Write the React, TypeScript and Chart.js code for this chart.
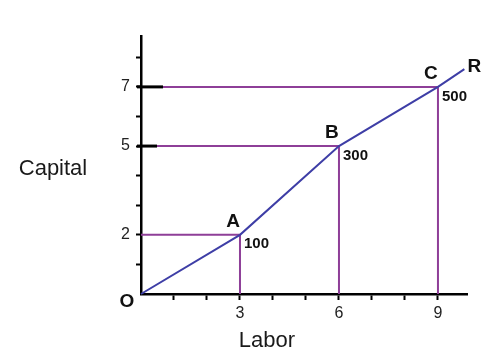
import React, { useEffect, useRef } from "react";
import { Chart, registerables } from "chart.js";

Chart.register(...registerables);

// Input combinations on the expansion path
const pointNames = ["A", "B", "C"];
const labor = [3, 6, 9];
const capital = [2, 5, 7];
const output = [100, 300, 500];

// Far end of the expansion path, labelled R
const rayEndLabor = 9.8;
const rayEndCapital = 7.6;

// Labelled ticks on each axis
const laborTicks = [3, 6, 9];
const capitalTicks = [2, 5, 7];

const FONT = "'Liberation Sans', Arial, Helvetica, sans-serif";
const PURPLE = "#8E3F98";
const BLUE = "#3E3EA6";

const annotate = {
  id: "annotate",
  afterDatasetsDraw(chart: any) {
    const { ctx } = chart;
    const x = chart.scales.x;
    const y = chart.scales.y;
    ctx.save();
    ctx.fillStyle = "#111";

    // heavier marks at the labelled capital ticks 7 and 5
    ctx.strokeStyle = "#000";
    ctx.lineWidth = 3;
    const left = x.getPixelForValue(0);
    [
      [7, 22],
      [5, 16],
    ].forEach(([v, len]) => {
      const py = y.getPixelForValue(v);
      ctx.beginPath();
      ctx.moveTo(left - 4, py);
      ctx.lineTo(left + len, py);
      ctx.stroke();
    });

    pointNames.forEach((name, i) => {
      const px = x.getPixelForValue(labor[i]);
      const py = y.getPixelForValue(capital[i]);
      ctx.font = `bold 19px ${FONT}`;
      ctx.textAlign = "center";
      ctx.textBaseline = "middle";
      ctx.fillText(name, px - 7, py - 13);
      ctx.font = `bold 15px ${FONT}`;
      ctx.textAlign = "left";
      ctx.textBaseline = "top";
      ctx.fillText(String(output[i]), px + 4, py + 2);
    });

    ctx.font = `bold 19px ${FONT}`;
    ctx.textAlign = "center";
    ctx.textBaseline = "middle";
    ctx.fillText("O", x.getPixelForValue(0) - 14, y.getPixelForValue(0) + 8);
    ctx.fillText(
      "R",
      x.getPixelForValue(rayEndLabor) + 10,
      y.getPixelForValue(rayEndCapital) - 2
    );

    ctx.font = `22px ${FONT}`;
    ctx.fillStyle = "#1a1a1a";
    ctx.textBaseline = "alphabetic";
    ctx.fillText("Capital", 53, 175);
    ctx.fillText("Labor", 267, 347);
    ctx.restore();
  },
};

export default function App() {
  const canvasRef = useRef<HTMLCanvasElement | null>(null);

  useEffect(() => {
    if (!canvasRef.current) return;

    const pathData = [{ x: 0, y: 0 }]
      .concat(labor.map((v, i) => ({ x: v, y: capital[i] })))
      .concat([{ x: rayEndLabor, y: rayEndCapital }]);

    const guides = labor.map((v, i) => ({
      label: `guide ${pointNames[i]}`,
      data: [
        { x: 0, y: capital[i] },
        { x: v, y: capital[i] },
        { x: v, y: 0 },
      ],
      showLine: true,
      borderColor: PURPLE,
      borderWidth: 2,
      pointRadius: 0,
      tension: 0,
      clip: false as any,
    }));

    const tickCommon = {
      stepSize: 1,
      autoSkip: false,
      includeBounds: false,
      color: "#222",
      font: { size: 16, family: FONT },
      maxRotation: 0,
    };

    const chart = new Chart(canvasRef.current, {
      type: "scatter",
      data: {
        datasets: [
          {
            label: "expansion path",
            data: pathData,
            showLine: true,
            borderColor: BLUE,
            borderWidth: 2,
            pointRadius: 0,
            tension: 0,
            clip: false as any,
          },
          ...guides,
        ],
      },
      options: {
        animation: false,
        responsive: false,
        layout: { padding: { left: 0, top: 36, right: 33, bottom: 0 } },
        plugins: {
          legend: { display: false },
          tooltip: { enabled: false },
        },
        scales: {
          x: {
            type: "linear",
            min: 0,
            max: 9.88,
            border: { color: "#000", width: 2.5 },
            grid: {
              display: true,
              drawOnChartArea: false,
              drawTicks: true,
              tickLength: 6,
              tickColor: "#000",
              tickWidth: 2,
            },
            ticks: {
              ...tickCommon,
              padding: 4,
              callback: (v: any) => (laborTicks.includes(Number(v)) ? String(v) : ""),
            },
            afterBuildTicks: (s: any) => {
              s.ticks = s.ticks.filter((t: any) => t.value > 0);
            },
            afterFit: (s: any) => {
              s.height = 67;
            },
          },
          y: {
            type: "linear",
            min: 0,
            max: 8.72,
            border: { color: "#000", width: 2.5 },
            grid: {
              display: true,
              drawOnChartArea: false,
              drawTicks: true,
              tickLength: 5,
              tickColor: "#000",
              tickWidth: 2,
            },
            ticks: {
              ...tickCommon,
              padding: 6,
              callback: (v: any) => (capitalTicks.includes(Number(v)) ? String(v) : ""),
            },
            afterBuildTicks: (s: any) => {
              s.ticks = s.ticks.filter((t: any) => t.value > 0);
            },
            afterFit: (s: any) => {
              s.width = 141;
            },
          },
        },
      },
      plugins: [annotate],
    });

    return () => chart.destroy();
  }, []);

  return (
    <div
      style={{
        position: "absolute",
        left: 0,
        top: 0,
        width: 500,
        height: 361,
        background: "#fff",
      }}
    >
      <canvas ref={canvasRef} width={500} height={361} style={{ display: "block" }} />
    </div>
  );
}
